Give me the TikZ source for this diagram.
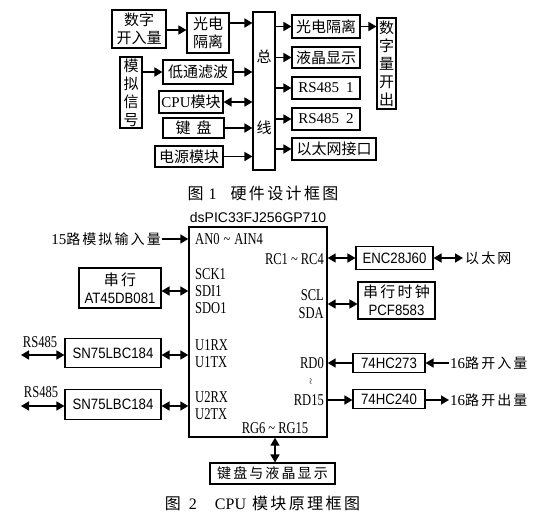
\documentclass[tikz,border=0pt]{standalone}
\usepackage{fontspec}
\setmainfont{Liberation Serif}
\newfontfamily\cjk{Noto Sans CJK SC}
\newfontfamily\cjksp[LetterSpace=15]{Noto Sans CJK SC}
\newfontfamily\nsans[FakeStretch=0.88]{Liberation Sans}
\newfontfamily\wsans{Liberation Sans}
\newfontfamily\nserif[FakeStretch=0.76]{Liberation Serif}
\usetikzlibrary{arrows.meta,calc}
\tikzset{
  box/.style={draw, line width=1.1pt, inner sep=0pt, align=center},
  tcjk/.style={font=\cjk\fontsize{15}{18}\selectfont},
  bcjk/.style={font=\cjksp\fontsize{14}{18}\selectfont},
  pinl/.style={font=\nserif\fontsize{16.5}{17}\selectfont, inner sep=0pt},
  nsan/.style={font=\nsans\fontsize{15}{18}\selectfont},
  tser/.style={font=\rmfamily\fontsize{15}{18}\selectfont},
  arr/.style={line width=1.6pt, -{Triangle[length=8pt,width=9pt]}},
  darr/.style={line width=1.6pt, {Triangle[length=8pt,width=9pt]}-{Triangle[length=8pt,width=9pt]}},
}
\begin{document}
\begin{tikzpicture}[x=1pt,y=-1pt]
\useasboundingbox (0,0) rectangle (539,520);
% ---------------- Figure 1 ----------------
\node[box,tcjk,minimum width=54pt,minimum height=38pt] (dk) at (139,29) {数字\\开入量};
\node[box,tcjk,minimum width=42pt,minimum height=40pt] (gd1) at (208,33) {光电\\隔离};
\node[box,tcjk,minimum width=22pt,minimum height=71pt] (mn) at (131,92.5) {模\\拟\\信\\号};
\node[box,tcjk,minimum width=70pt,minimum height=24pt] (dt) at (198,72) {低通滤波};
\node[box,tcjk,minimum width=64pt,minimum height=22pt] (cpu) at (191,102) {{\rmfamily CPU}模块};
\node[box,tcjk,minimum width=61pt,minimum height=20pt] (jp) at (193.5,128) {键\hspace{6pt}盘};
\node[box,tcjk,minimum width=68pt,minimum height=21pt] (dy) at (189,156.5) {电源模块};
\node[box,minimum width=22pt,minimum height=158pt] (bus) at (264,91) {};
\node[tcjk,inner sep=0pt] (bz) at (264,57) {总};
\node[tcjk,inner sep=0pt] (bx) at (264,128) {线};
\node[box,tcjk,minimum width=68pt,minimum height=23pt] (gd2) at (326,26.5) {光电隔离};
\node[box,tcjk,minimum width=68pt,minimum height=21pt] (yj) at (326,57.5) {液晶显示};
\node[box,tser,minimum width=68pt,minimum height=22pt] (rs1) at (326,88) {RS485\hspace{7pt}1};
\node[box,tser,minimum width=68pt,minimum height=22pt] (rs2) at (326,119) {RS485\hspace{7pt}2};
\node[box,tcjk,minimum width=84pt,minimum height=22pt] (ytw) at (334,149) {以太网接口};
\node[box,tcjk,minimum width=19pt,minimum height=91pt] (sk) at (386.5,63.5) {数\\字\\量\\开\\出};
\coordinate (y23) at (240,23);
\draw[arr] (dk.east |- 0,30) -- (gd1.west |- 0,30);
\draw[arr] (gd1.east |- y23) -- (bus.west |- y23);
\draw[arr] (mn.east |- dt.west) -- (dt.west);
\draw[arr] (dt.east) -- (bus.west |- dt.east);
\draw[darr] (cpu.east) -- (bus.west |- cpu.east);
\draw[arr] (jp.east) -- (bus.west |- jp.east);
\draw[arr] (dy.east) -- (bus.west |- dy.east);
\draw[arr] (bus.east |- gd2.west) -- (gd2.west);
\draw[arr] (bus.east |- yj.west) -- (yj.west);
\draw[arr] (bus.east |- rs1.west) -- (rs1.west);
\draw[arr] (bus.east |- rs2.west) -- (rs2.west);
\draw[arr] (bus.east |- ytw.west) -- (ytw.west);
\draw[arr] (gd2.east) -- (sk.west |- gd2.east);
\node[inner sep=0pt] (cap1) at (263,193) {{\cjk\fontsize{16}{18}\selectfont 图}\hspace{5pt}{\fontsize{16}{18}\selectfont 1}\hspace{14pt}{\cjksp\fontsize{16}{18}\selectfont 硬件设计框图}};
% ---------------- Figure 2 ----------------
\node[inner sep=0pt,font=\wsans\fontsize{14}{16}\selectfont] (chipname) at (258,217) {dsPIC33FJ256GP710};
\node[box,line width=1.4pt,minimum width=138pt,minimum height=210pt] (chip) at (258,332) {};
\node[pinl,anchor=west] (an) at (195,239) {AN0\hspace{4pt}\textasciitilde\hspace{4pt}AIN4};
\node[pinl,anchor=west] (sck) at (195,274) {SCK1};
\node[pinl,anchor=west] (sdi) at (195,291) {SDI1};
\node[pinl,anchor=west] (sdo) at (195,308) {SDO1};
\node[pinl,anchor=west] (u1rx) at (195,345) {U1RX};
\node[pinl,anchor=west] (u1tx) at (195,362) {U1TX};
\node[pinl,anchor=west] (u2rx) at (195,397) {U2RX};
\node[pinl,anchor=west] (u2tx) at (195,414) {U2TX};
\node[pinl,anchor=east] (rc) at (324,259) {RC1\hspace{3pt}\textasciitilde\hspace{3pt}RC4};
\node[pinl,anchor=east] (scl) at (324,295) {SCL};
\node[pinl,anchor=east] (sda) at (324,313) {SDA};
\node[pinl,anchor=east] (rd0) at (324,363) {RD0};
\node[pinl,anchor=east] (rd15) at (324,400) {RD15};
\node[inner sep=0pt,rotate=90,font=\fontsize{11}{11}\selectfont] (rdt) at (312,382) {\textasciitilde};
\node[pinl] (rg) at (275,428) {RG6\hspace{3pt}\textasciitilde\hspace{3pt}RG15};
\node[bcjk,anchor=east,inner sep=1pt] (in15) at (162,239) {{\rmfamily\fontsize{15}{18}\selectfont 15}路模拟输入量};
\draw[arr] (in15.east) -- (chip.west |- in15.east);
\node[box,nsan,minimum width=82pt,minimum height=40pt] (at45) at (120,288) {{\cjksp 串行}\\AT45DB081};
\draw[darr] (at45.east |- sdi.west) -- (chip.west |- sdi.west);
\node[box,nsan,minimum width=96pt,minimum height=29pt] (sn1) at (113,353) {SN75LBC184};
\node[box,nsan,minimum width=96pt,minimum height=30pt] (sn2) at (113,404.5) {SN75LBC184};
\coordinate (r1) at (21,355);
\coordinate (r2) at (21,406);
\node[pinl] (rsl1) at (40,342) {RS485};
\node[pinl] (rsl2) at (41,392) {RS485};
\draw[darr] (r1) -- (r1 -| sn1.west);
\draw[darr] (r2) -- (r2 -| sn2.west);
\draw[darr] (sn1.east |- r1) -- (chip.west |- r1);
\draw[darr] (sn2.east |- r2) -- (chip.west |- r2);
\node[box,nsan,minimum width=77pt,minimum height=23pt] (enc) at (394.5,258) {ENC28J60};
\node[bcjk,anchor=west,inner sep=2pt] (eth) at (463,258) {以太网};
\draw[darr] (chip.east |- enc.west) -- (enc.west);
\draw[darr] (enc.east) -- (eth.west);
\node[box,nsan,minimum width=77pt,minimum height=37pt] (pcf) at (396.5,300.5) {{\cjksp 串行时钟}\\PCF8583};
\coordinate (sm) at ($(scl.east)!.5!(sda.east)$);
\draw[darr] (chip.east |- sm) -- (pcf.west |- sm);
\node[box,nsan,minimum width=72pt,minimum height=19pt] (hc273) at (389,363) {74HC273};
\node[box,nsan,minimum width=72pt,minimum height=19pt] (hc240) at (389,399) {74HC240};
\node[bcjk,anchor=west,inner sep=1pt] (in16) at (449,363) {{\rmfamily\fontsize{15}{18}\selectfont 16}路开入量};
\node[bcjk,anchor=west,inner sep=1pt] (out16) at (449,400) {{\rmfamily\fontsize{15}{18}\selectfont 16}路开出量};
\draw[arr] (hc273.west) -- (chip.east |- hc273.west);
\draw[arr] (in16.west) -- (hc273.east);
\draw[arr] (chip.east |- rd15.east) -- (hc240.west |- rd15.east);
\draw[arr] (hc240.east |- out16.west) -- (out16.west);
\node[box,bcjk,minimum width=125pt,minimum height=21pt] (kb) at (272.5,473.5) {键盘与液晶显示};
\coordinate (kx) at (275,450);
\draw[darr] (chip.south -| kx) -- (kb.north -| kx);
\node[inner sep=0pt] (cap2) at (262.5,503) {{\cjk\fontsize{16}{18}\selectfont 图}\hspace{8pt}{\fontsize{16}{18}\selectfont 2}\hspace{18pt}{\fontsize{16}{18}\selectfont CPU}\hspace{6pt}{\cjksp\fontsize{16}{18}\selectfont 模块原理框图}};
\end{tikzpicture}
\end{document}
